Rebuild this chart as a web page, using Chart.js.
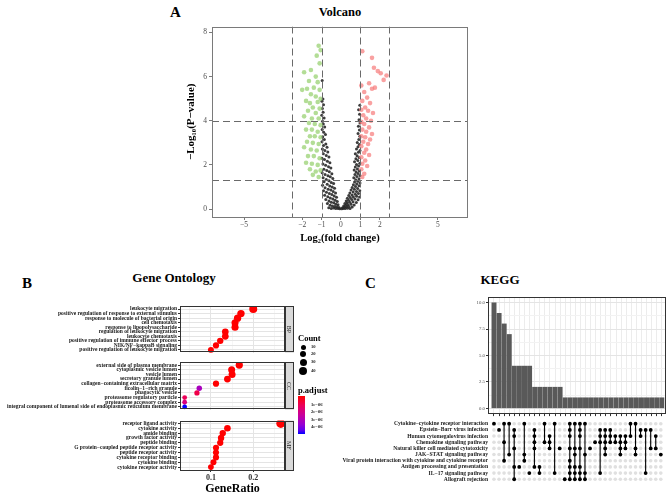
<!DOCTYPE html>
<html><head><meta charset="utf-8">
<script src="https://cdn.jsdelivr.net/npm/chart.js@4.4.1/dist/chart.umd.min.js"></script>
<style>
html,body{margin:0;padding:0;background:#fff;}
body{position:relative;width:669px;height:496px;overflow:hidden;font-family:"Liberation Serif","Times New Roman",serif;}
canvas{position:absolute;}
.t{position:absolute;font-weight:bold;color:#000;white-space:nowrap;line-height:1;}
.c{text-align:center;}
.s{position:absolute;color:#1a1a1a;white-space:nowrap;line-height:1;font-size:4.6px;font-weight:bold;}
.dot{position:absolute;border-radius:50%;background:#000;}
</style></head><body>
<div class="t" style="left:170px;top:4.5px;font-size:15px;">A</div>
<div class="t c" style="left:290px;width:100px;top:5.6px;font-size:12.5px;">Volcano</div>
<div class="t" style="left:22px;top:275.5px;font-size:15px;">B</div>
<div class="t c" style="left:114px;width:120px;top:271.4px;font-size:13px;">Gene Ontology</div>
<div class="t" style="left:365px;top:275.5px;font-size:15px;">C</div>
<div class="t c" style="left:460px;width:80px;top:273.4px;font-size:13px;">KEGG</div>

<canvas id="cA" width="300" height="225" style="left:180px;top:20px"></canvas>
<canvas id="cBP" width="300" height="55" style="left:0px;top:302px"></canvas>
<canvas id="cCC" width="300" height="56" style="left:0px;top:358px"></canvas>
<canvas id="cMF" width="300" height="80" style="left:0px;top:416px"></canvas>
<canvas id="cBar" width="209" height="128" style="left:460px;top:290px"></canvas>
<canvas id="cMat" width="349" height="73" style="left:320px;top:415px"></canvas>

<div class="t" style="left:298px;top:333.7px;font-size:8.5px;">Count</div>
<div id="countLegend"></div>
<div class="t" style="left:298px;top:385.7px;font-size:8.5px;">p.adjust</div>
<div id="colorbar" style="position:absolute;left:298px;top:396px;width:7px;height:38px;"></div>
<div class="s" style="left:311px;top:403.4px;">1e−06</div>
<div class="s" style="left:311px;top:410.4px;">2e−06</div>
<div class="s" style="left:311px;top:417.7px;">3e−06</div>
<div class="s" style="left:311px;top:425px;">4e−06</div>

<script>
// ---------------- DATA ----------------
// Volcano: [log2 fold change, -log10 p-value]
const volcanoDown = [
 [-1.15,7.4],[-1.05,7.2],[-1.25,6.95],[-1.1,6.6],[-1.9,6.2],[-1.55,6.3],[-1.3,6.0],[-1.65,5.8],[-1.2,5.75],
 [-2.0,5.4],[-1.75,5.45],[-1.4,5.5],[-1.1,5.4],[-1.55,5.2],[-1.3,5.1],[-1.05,5.0],[-1.8,4.9],[-1.6,4.8],
 [-1.2,4.85],[-1.45,4.6],[-1.1,4.55],[-1.7,4.45],[-1.3,4.35],[-1.9,4.2],[-1.5,4.1],[-1.15,4.1],[-1.65,3.9],
 [-1.35,3.85],[-1.05,3.8],[-1.8,3.6],[-1.5,3.6],[-1.2,3.5],[-1.6,3.3],[-1.35,3.3],[-1.05,3.25],[-1.75,3.05],
 [-1.45,3.0],[-1.15,2.95],[-1.9,2.8],[-1.55,2.7],[-1.25,2.65],[-1.7,2.4],[-1.4,2.4],[-1.1,2.3],[-1.8,2.1],
 [-1.5,2.05],[-1.2,2.0],[-1.6,1.8],[-1.3,1.7],[-1.05,1.75],[-1.45,1.55],[-1.15,1.45]
];
const volcanoUp = [
 [1.1,7.15],[1.6,6.85],[1.7,6.4],[1.9,6.25],[2.05,6.15],[2.35,6.05],[2.2,5.85],[1.45,5.7],[1.05,5.6],
 [1.75,5.5],[1.6,5.45],[1.2,5.3],[1.35,5.05],[1.1,4.9],[1.5,4.8],[1.25,4.6],[1.05,4.5],[1.4,4.45],
 [1.65,4.35],[1.15,4.25],[1.3,4.1],[1.55,4.0],[1.05,3.95],[1.2,3.85],[1.45,3.7],[1.1,3.6],[1.3,3.5],
 [1.6,3.4],[1.05,3.3],[1.25,3.25],[1.5,3.15],[1.15,3.05],[1.4,2.95],[1.05,2.85],[1.3,2.7],[1.2,2.55],
 [1.45,2.45],[1.05,2.35],[1.25,2.2],[1.1,2.05],[1.35,1.95],[1.05,1.8],[1.2,1.6],[1.1,1.45]
];
const volcanoNS = [
 [-0.97,5.82],[-0.93,4.98],[-0.98,4.88],[-0.9,4.72],[-0.96,4.55],[-0.92,4.38],[-0.99,4.25],[-0.87,4.12],
 [-0.95,3.98],[-0.91,3.85],[-0.84,3.72],[-0.97,3.6],[-0.89,3.48],[-0.8,3.38],[-0.94,3.27],[-0.86,3.15],[-0.98,3.05],
 [-0.78,2.95],[-0.9,2.88],[-0.72,2.8],[-0.96,2.72],[-0.83,2.65],[-0.68,2.58],[-0.91,2.5],[-0.76,2.43],[-0.62,2.36],
 [-0.98,2.3],[-0.85,2.24],[-0.7,2.17],[-0.57,2.1],[-0.93,2.04],[-0.79,1.98],[-0.64,1.92],[-0.52,1.86],[-0.88,1.8],
 [-0.73,1.75],[-0.6,1.69],[-0.97,1.64],[-0.47,1.6],[-0.82,1.56],[-0.67,1.51],[-0.55,1.46],[-0.92,1.42],[-0.42,1.38],[-0.76,1.34],
 [-0.62,1.28],[-0.87,1.24],[-0.5,1.2],[-0.38,1.16],[-0.71,1.12],[-0.95,1.08],[-0.58,1.05],[-0.45,1.0],[-0.82,0.97],
 [-0.33,0.94],[-0.66,0.9],[-0.52,0.86],[-0.9,0.83],[-0.4,0.8],[-0.75,0.76],[-0.28,0.73],[-0.6,0.7],[-0.47,0.66],
 [-0.84,0.62],[-0.35,0.59],[-0.68,0.56],[-0.23,0.53],[-0.55,0.5],[-0.42,0.46],[-0.78,0.43],[-0.3,0.4],[-0.62,0.37],
 [-0.19,0.34],[-0.5,0.31],[-0.37,0.28],[-0.7,0.25],[-0.26,0.22],[-0.15,0.19],[-0.56,0.17],[-0.44,0.14],[-0.32,0.12],
 [-0.2,0.09],[-0.1,0.07],[-0.63,0.06],[-0.38,0.05],[-0.27,0.03],[-0.15,0.02],[-0.06,0.01],[-0.5,0.02],
 [0.04,0.01],[0.12,0.02],[0.22,0.03],[0.34,0.04],[0.47,0.03],[0.08,0.06],[0.18,0.08],[0.29,0.1],[0.41,0.12],
 [0.58,0.09],[0.14,0.14],[0.25,0.17],[0.36,0.2],[0.52,0.22],[0.68,0.18],[0.2,0.25],[0.31,0.28],[0.45,0.31],
 [0.62,0.33],[0.79,0.3],[0.27,0.37],[0.39,0.4],[0.55,0.43],[0.72,0.45],[0.88,0.42],[0.33,0.49],[0.48,0.52],
 [0.64,0.55],[0.81,0.58],[0.96,0.55],[0.4,0.61],[0.57,0.64],[0.74,0.67],[0.9,0.7],[0.46,0.73],[0.63,0.77],
 [0.8,0.8],[0.97,0.83],[0.52,0.86],[0.69,0.9],[0.86,0.93],[0.58,0.98],[0.75,1.02],[0.93,1.06],[0.64,1.1],
 [0.81,1.14],[0.98,1.18],[0.7,1.22],[0.87,1.26],
 [0.76,1.33],[0.93,1.37],[0.66,1.42],[0.82,1.47],[0.98,1.52],[0.72,1.56],[0.88,1.61],[0.78,1.68],[0.95,1.72],
 [0.68,1.77],[0.85,1.82],[0.74,1.9],[0.91,1.95],[0.8,2.02],[0.97,2.08],[0.7,2.14],[0.87,2.2],[0.77,2.28],
 [0.94,2.34],[0.83,2.42],[0.74,2.5],[0.9,2.57],[0.98,2.65],[0.8,2.72],[0.88,2.82],[0.95,2.92],
 [0.84,3.02],[0.92,3.15],[0.97,3.3],[0.88,3.42],[0.95,3.58],[0.9,3.75],[0.98,3.9],[0.93,4.05],[0.96,4.3],[0.91,4.5],[0.97,4.7]
];
const fcCutoffs = [-2.5, -1, 1, 2.5];
const pCutoffs = [1.3, 4];
const volcanoXTicks = [-5, -2, -1, 0, 1, 2, 5];
const volcanoYTicks = [0, 2, 4, 6, 8];
const volcanoXRange = [-6.65, 6.55];
const volcanoYRange = [-0.36, 8.27];

// Gene Ontology
const goBPTerms = ["leukocyte migration","positive regulation of response to external stimulus","response to molecule of bacterial origin","cell chemotaxis","response to lipopolysaccharide","regulation of leukocyte migration","leukocyte chemotaxis","positive regulation of immune effector process","NIK/NF−kappaB signaling","positive regulation of leukocyte migration"];
const goBPRatio = [0.200,0.171,0.163,0.157,0.157,0.134,0.134,0.122,0.112,0.100];
const goBPCount = [40,34,33,31,31,27,27,24,22,20];
const goBPPadj = [1e-12,1e-11,1e-11,1e-11,1e-11,1e-10,1e-10,1e-9,1e-9,1e-9];

const goCCTerms = ["external side of plasma membrane","cytoplasmic vesicle lumen","vesicle lumen","secretory granule lumen","collagen−containing extracellular matrix","ficolin−1−rich granule","phagocytic vesicle","proteasome regulatory particle","proteasome accessory complex","integral component of lumenal side of endoplasmic reticulum membrane"];
const goCCRatio = [0.167,0.149,0.150,0.139,0.112,0.0725,0.067,0.038,0.038,0.038];
const goCCCount = [33,30,30,28,22,15,13,8,8,8];
const goCCPadj = [2e-10,5e-10,5e-10,8e-10,3e-8,3.2e-6,1.0e-6,1.2e-6,1.9e-6,4.9e-6];

const goMFTerms = ["receptor ligand activity","cytokine activity","amide binding","growth factor activity","peptide binding","G protein−coupled peptide receptor activity","peptide receptor activity","cytokine receptor binding","cytokine binding","cytokine receptor activity"];
const goMFRatio = [0.265,0.139,0.128,0.124,0.122,0.112,0.112,0.112,0.106,0.100];
const goMFCount = [50,26,24,24,23,21,21,21,20,19];
const goMFPadj = [1e-14,1e-10,1e-9,1e-9,1e-9,1e-8,1e-8,1e-8,1e-8,1e-8];

const goXGrid = [0.05, 0.1, 0.15, 0.2, 0.25];
const goXLabels = [0.1, 0.2];
const goXRange = [0.027, 0.275];
const countLegend = [10, 20, 30, 40];
const padjRange = [0, 4.9e-6];

// KEGG UpSet
const keggSets = ["Cytokine−cytokine receptor interaction","Epstein−Barr virus infection","Human cytomegalovirus infection","Chemokine signaling pathway","Natural killer cell mediated cytotoxicity","JAK−STAT signaling pathway","Viral protein interaction with cytokine and cytokine receptor","Antigen processing and presentation","IL−17 signaling pathway","Allograft rejection"];
const keggIntersectionSize = [10,9,8,7,4,4,4,4,2,2,2,2,2,2,1,1,1,1,1,1,1,1,1,1,1,1,1,1,1,1,1,1,1,1];
const keggMembership = [
 [0],[1],[0,3,6],[0,5],[1,2,4,7,9],[7],[0,5,6],[8],[1,2,3,4,7],[7,8],[0,3],[2,3,4],[0,8],[4],
 [9],[0,1,2,4,6,7,8,9],[0,4,5,7,8,9],[0,1,2,4,7,8,9],[0,5,8,9],[4],[3],[1,2,3,8],[1,2,3,4,5],[1,2,3],
 [2,3],[2,3,4,5],[2,3,4],[0,2],[0,4,5],[1,2],[1,8],[1,4],[2,4],[5]
];
const keggYTicks = [0, 2.5, 5, 7.5, 10];
const keggYGrid = [0, 1.25, 2.5, 3.75, 5, 6.25, 7.5, 8.75, 10];
const keggXRange = [-0.18, 34.83];
const keggYRange = [-0.55, 10.55];
const keggMatrixYRange = [-0.765, 9.77];

// ---------------- HELPERS ----------------
Chart.defaults.font.family = '"Liberation Serif","Times New Roman",serif';
Chart.defaults.animation = false;
Chart.defaults.events = [];
Chart.defaults.plugins.legend.display = false;
Chart.defaults.plugins.tooltip.enabled = false;
if (Chart.defaults.plugins.colors) Chart.defaults.plugins.colors.enabled = false;

const minus = v => v < 0 ? '\u2212' + (-v) : String(v);
const near = (a, list) => a != null && list.some(b => Math.abs(a - b) < 1e-9);
const dotRadius = c => 2 + 0.05 * c;
const padjStops = [[0,[255,0,0]],[0.25,[235,0,90]],[0.5,[200,0,155]],[0.75,[150,0,210]],[0.9,[95,0,240]],[1,[0,0,255]]];
function padjColor(p){
  const t = Math.max(0, Math.min(1, (p - padjRange[0]) / (padjRange[1] - padjRange[0])));
  for (let i = 1; i < padjStops.length; i++) {
    const [t1, c1] = padjStops[i-1], [t2, c2] = padjStops[i];
    if (t <= t2) { const f = (t - t1) / (t2 - t1); const c = c1.map((v,k)=>Math.round(v + (c2[k]-v)*f)); return `rgb(${c[0]},${c[1]},${c[2]})`; }
  }
  return 'rgb(0,0,255)';
}
function pts(color, radius, order, data){
  return {data, order, pointRadius: radius, backgroundColor: color, pointBackgroundColor: color,
          borderColor: 'rgba(0,0,0,0)', pointBorderColor: 'rgba(0,0,0,0)', pointBorderWidth: 0, borderWidth: 0};
}

const framePlugin = {id:'frame', afterDraw(chart, args, o){
  const a = chart.chartArea, c = chart.ctx;
  c.save(); c.strokeStyle = o.color || '#333'; c.lineWidth = 1;
  c.strokeRect(Math.round(a.left)+0.5, Math.round(a.top)+0.5, Math.round(a.right-a.left)-1, Math.round(a.bottom-a.top)-1);
  c.restore();
}};
const refLinesPlugin = {id:'refLines', afterDatasetsDraw(chart, args, o){
  const {ctx, chartArea:a, scales} = chart;
  ctx.save(); ctx.beginPath(); ctx.rect(a.left, a.top, a.right-a.left, a.bottom-a.top); ctx.clip();
  ctx.strokeStyle = o.color; ctx.lineWidth = 1; ctx.setLineDash(o.dash);
  (o.x||[]).forEach(v => { const p = Math.round(scales.x.getPixelForValue(v))+0.5; ctx.beginPath(); ctx.moveTo(p, a.top); ctx.lineTo(p, a.bottom); ctx.stroke(); });
  (o.y||[]).forEach(v => { const p = Math.round(scales.y.getPixelForValue(v))+0.5; ctx.beginPath(); ctx.moveTo(a.left, p); ctx.lineTo(a.right, p); ctx.stroke(); });
  ctx.restore();
}};
const stripPlugin = {id:'strip',
  beforeDraw(chart){ const s = chart.scales.strip, a = chart.chartArea, c = chart.ctx; if(!s) return;
    c.save(); c.fillStyle = '#d9d9d9'; c.fillRect(s.left, a.top, s.right - s.left, a.bottom - a.top); c.restore(); },
  afterDraw(chart){ const s = chart.scales.strip, a = chart.chartArea, c = chart.ctx; if(!s) return;
    c.save(); c.strokeStyle = '#333'; c.lineWidth = 1;
    c.strokeRect(Math.round(s.left)+0.5, Math.round(a.top)+0.5, Math.round(s.right-s.left)-1, Math.round(a.bottom-a.top)-1); c.restore(); }
};

// ---------------- A: VOLCANO ----------------
const toXY = arr => arr.map(([x,y]) => ({x, y}));
new Chart(document.getElementById('cA'), {
  type: 'scatter',
  data: {datasets: [
    pts('rgba(150,208,110,0.72)', 2.3, 1, toXY(volcanoDown)),
    pts('rgba(246,125,125,0.72)', 2.3, 1, toXY(volcanoUp)),
    pts('rgba(40,40,40,0.9)', 1.5, 2, toXY(volcanoNS))
  ]},
  options: {responsive: false, layout: {padding: {top: 3, right: 12, left: 0, bottom: 0}},
    plugins: {frame: {color: '#7a7a7a'}, refLines: {x: fcCutoffs, y: pCutoffs, color: '#6a6a6a', dash: [7, 4]}},
    scales: {
      x: {type: 'linear', min: volcanoXRange[0], max: volcanoXRange[1],
        afterBuildTicks: s => { s.ticks = volcanoXTicks.map(v => ({value: v})); },
        ticks: {autoSkip: false, maxRotation: 0, padding: 1, font: {size: 7.5}, color: '#4d4d4d', callback: v => minus(v)},
        grid: {drawOnChartArea: false, tickLength: 3, color: '#7a7a7a'}, border: {display: false},
        title: {display: true, text: 'Log₂(fold change)', font: {size: 10.5, weight: 'bold'}, color: '#000', padding: {top: 2, bottom: 0}},
        afterFit: s => { s.height = 28; }},
      y: {type: 'linear', min: volcanoYRange[0], max: volcanoYRange[1],
        afterBuildTicks: s => { s.ticks = volcanoYTicks.map(v => ({value: v})); },
        ticks: {autoSkip: false, padding: 2, font: {size: 7.5}, color: '#4d4d4d', callback: v => minus(v)},
        grid: {drawOnChartArea: false, tickLength: 3, color: '#7a7a7a'}, border: {display: false},
        title: {display: true, text: '−Log₁₀(P−value)', font: {size: 11, weight: 'bold'}, color: '#000', padding: {top: 5, bottom: 0}},
        afterFit: s => { s.width = 32; }}
    }},
  plugins: [framePlugin, refLinesPlugin]
});

// ---------------- B: GENE ONTOLOGY ----------------
function goChart(id, terms, ratio, count, padj, facet, isBottom){
  const data = terms.map((t, i) => ({x: ratio[i], y: i, count: count[i], p: padj[i]}));
  return new Chart(document.getElementById(id), {
    type: 'scatter',
    data: {datasets: [{data,
      pointRadius: c => c.raw ? dotRadius(c.raw.count) : 2,
      pointBackgroundColor: c => c.raw ? padjColor(c.raw.p) : '#f00',
      backgroundColor: '#f00', borderColor: 'rgba(0,0,0,0)',
      pointBorderWidth: 0}]},
    options: {responsive: false, layout: {padding: {top: 0, right: 6, left: 0, bottom: 0}},
      plugins: {frame: {color: '#333'}},
      scales: {
        x: {type: 'linear', min: goXRange[0], max: goXRange[1],
          afterBuildTicks: s => { s.ticks = goXGrid.map(v => ({value: v})); },
          ticks: {display: isBottom, autoSkip: false, maxRotation: 0, padding: 1, font: {size: 8, weight: 'bold'}, color: '#333',
            callback: v => near(v, goXLabels) ? v.toFixed(1) : ''},
          grid: {color: c => near(c.tick && c.tick.value, goXLabels) ? '#e4e4e4' : '#f0f0f0',
                 lineWidth: c => near(c.tick && c.tick.value, goXLabels) ? 1 : 0.6,
                 drawTicks: isBottom, tickLength: 2,
                 tickColor: c => near(c.tick && c.tick.value, goXLabels) ? '#333' : 'rgba(0,0,0,0)'},
          border: {display: false},
          title: {display: isBottom, text: 'GeneRatio', font: {size: 12, weight: 'bold'}, color: '#000', padding: {top: 0, bottom: 0}},
          afterFit: s => { s.height = isBottom ? 26 : 0; }},
        y: {type: 'linear', reverse: true, min: -0.6, max: terms.length - 0.4,
          afterBuildTicks: s => { s.ticks = terms.map((_, i) => ({value: i})); },
          ticks: {autoSkip: false, padding: 1, font: {size: 5.5, weight: 'bold'}, color: '#1a1a1a', callback: v => terms[v]},
          grid: {color: '#e4e4e4', tickLength: 2, tickColor: '#333'}, border: {display: false},
          afterFit: s => { s.width = 180; }},
        strip: {axis: 'y', type: 'linear', position: 'right', grid: {display: false}, border: {display: false},
          ticks: {display: false},
          title: {display: true, text: facet, font: {size: 6}, color: '#1a1a1a', padding: {top: 1.5, bottom: 0}},
          afterFit: s => { s.width = 9; }}
      }},
    plugins: [framePlugin, stripPlugin]
  });
}
goChart('cBP', goBPTerms, goBPRatio, goBPCount, goBPPadj, 'BP', false);
goChart('cCC', goCCTerms, goCCRatio, goCCCount, goCCPadj, 'CC', false);
goChart('cMF', goMFTerms, goMFRatio, goMFCount, goMFPadj, 'MF', true);

// legends
const legendYs = [347.3, 354.3, 362, 371.3];
const cl = document.getElementById('countLegend');
countLegend.forEach((c, i) => {
  const r = dotRadius(c);
  const d = document.createElement('div'); d.className = 'dot';
  d.style.cssText = `left:${303.3 - r}px;top:${legendYs[i] - r}px;width:${2*r}px;height:${2*r}px;`;
  cl.appendChild(d);
  const l = document.createElement('div'); l.className = 's'; l.textContent = String(c);
  l.style.left = '311px'; l.style.top = (legendYs[i] - 2.4) + 'px';
  cl.appendChild(l);
});
document.getElementById('colorbar').style.background =
  'linear-gradient(to bottom,' + padjStops.map(([t, c]) => `rgb(${c[0]},${c[1]},${c[2]}) ${t*100}%`).join(',') + ')';

// ---------------- C: KEGG UPSET ----------------
new Chart(document.getElementById('cBar'), {
  type: 'bar',
  data: {datasets: [{data: keggIntersectionSize.map((v, i) => ({x: i + 1, y: v})), backgroundColor: '#595959', borderColor: 'rgba(0,0,0,0)', barThickness: 4.3, borderWidth: 0}]},
  options: {responsive: false, layout: {padding: {top: 7, right: 3, left: 0, bottom: 0}},
    plugins: {frame: {color: '#333'}},
    scales: {
      x: {type: 'linear', offset: false, min: keggXRange[0], max: keggXRange[1],
        afterBuildTicks: s => { s.ticks = keggIntersectionSize.map((_, i) => ({value: i + 1})); },
        ticks: {display: false, autoSkip: false},
        grid: {offset: false, color: '#ececec', tickLength: 2, tickColor: '#333'}, border: {display: false},
        afterFit: s => { s.height = 3; }},
      y: {type: 'linear', min: keggYRange[0], max: keggYRange[1],
        afterBuildTicks: s => { s.ticks = keggYGrid.map(v => ({value: v})); },
        ticks: {autoSkip: false, padding: 1, font: {size: 4.8}, color: '#4d4d4d', callback: v => near(v, keggYTicks) ? v.toFixed(1) : ''},
        grid: {color: c => near(c.tick && c.tick.value, keggYTicks) ? '#e4e4e4' : '#f2f2f2', tickLength: 2,
               tickColor: c => near(c.tick && c.tick.value, keggYTicks) ? '#333' : 'rgba(0,0,0,0)'},
        border: {display: false},
        afterFit: s => { s.width = 28; }}
    }},
  plugins: [framePlugin]
});

const matrixBg = [];
keggSets.forEach((_, r) => keggIntersectionSize.forEach((_, c) => matrixBg.push({x: c + 1, y: r})));
const matrixOn = [];
keggMembership.forEach((m, c) => m.forEach(r => matrixOn.push({x: c + 1, y: r})));
const matrixLines = keggMembership.map((m, c) => ({m, c})).filter(o => o.m.length > 1).map(o => ({
  data: [{x: o.c + 1, y: Math.min(...o.m)}, {x: o.c + 1, y: Math.max(...o.m)}], order: 2,
  showLine: true, borderColor: '#000', backgroundColor: '#000', borderWidth: 1.1, pointRadius: 0
}));
new Chart(document.getElementById('cMat'), {
  type: 'scatter',
  data: {datasets: [
    pts('#e0e0e0', 1.8, 3, matrixBg),
    ...matrixLines,
    pts('#000', 1.9, 1, matrixOn)
  ]},
  options: {responsive: false, layout: {padding: {top: 0, right: 3, left: 0, bottom: 0}},
    scales: {
      x: {type: 'linear', display: false, min: keggXRange[0], max: keggXRange[1]},
      y: {type: 'linear', reverse: true, min: keggMatrixYRange[0], max: keggMatrixYRange[1],
        afterBuildTicks: s => { s.ticks = keggSets.map((_, i) => ({value: i})); },
        ticks: {autoSkip: false, padding: 0, font: {size: 5.6, weight: 'bold'}, color: '#1a1a1a', callback: v => keggSets[v]},
        grid: {display: false, drawTicks: false, tickLength: 0}, border: {display: false},
        afterFit: s => { s.width = 168; }}
    }}
});
</script>
</body></html>
